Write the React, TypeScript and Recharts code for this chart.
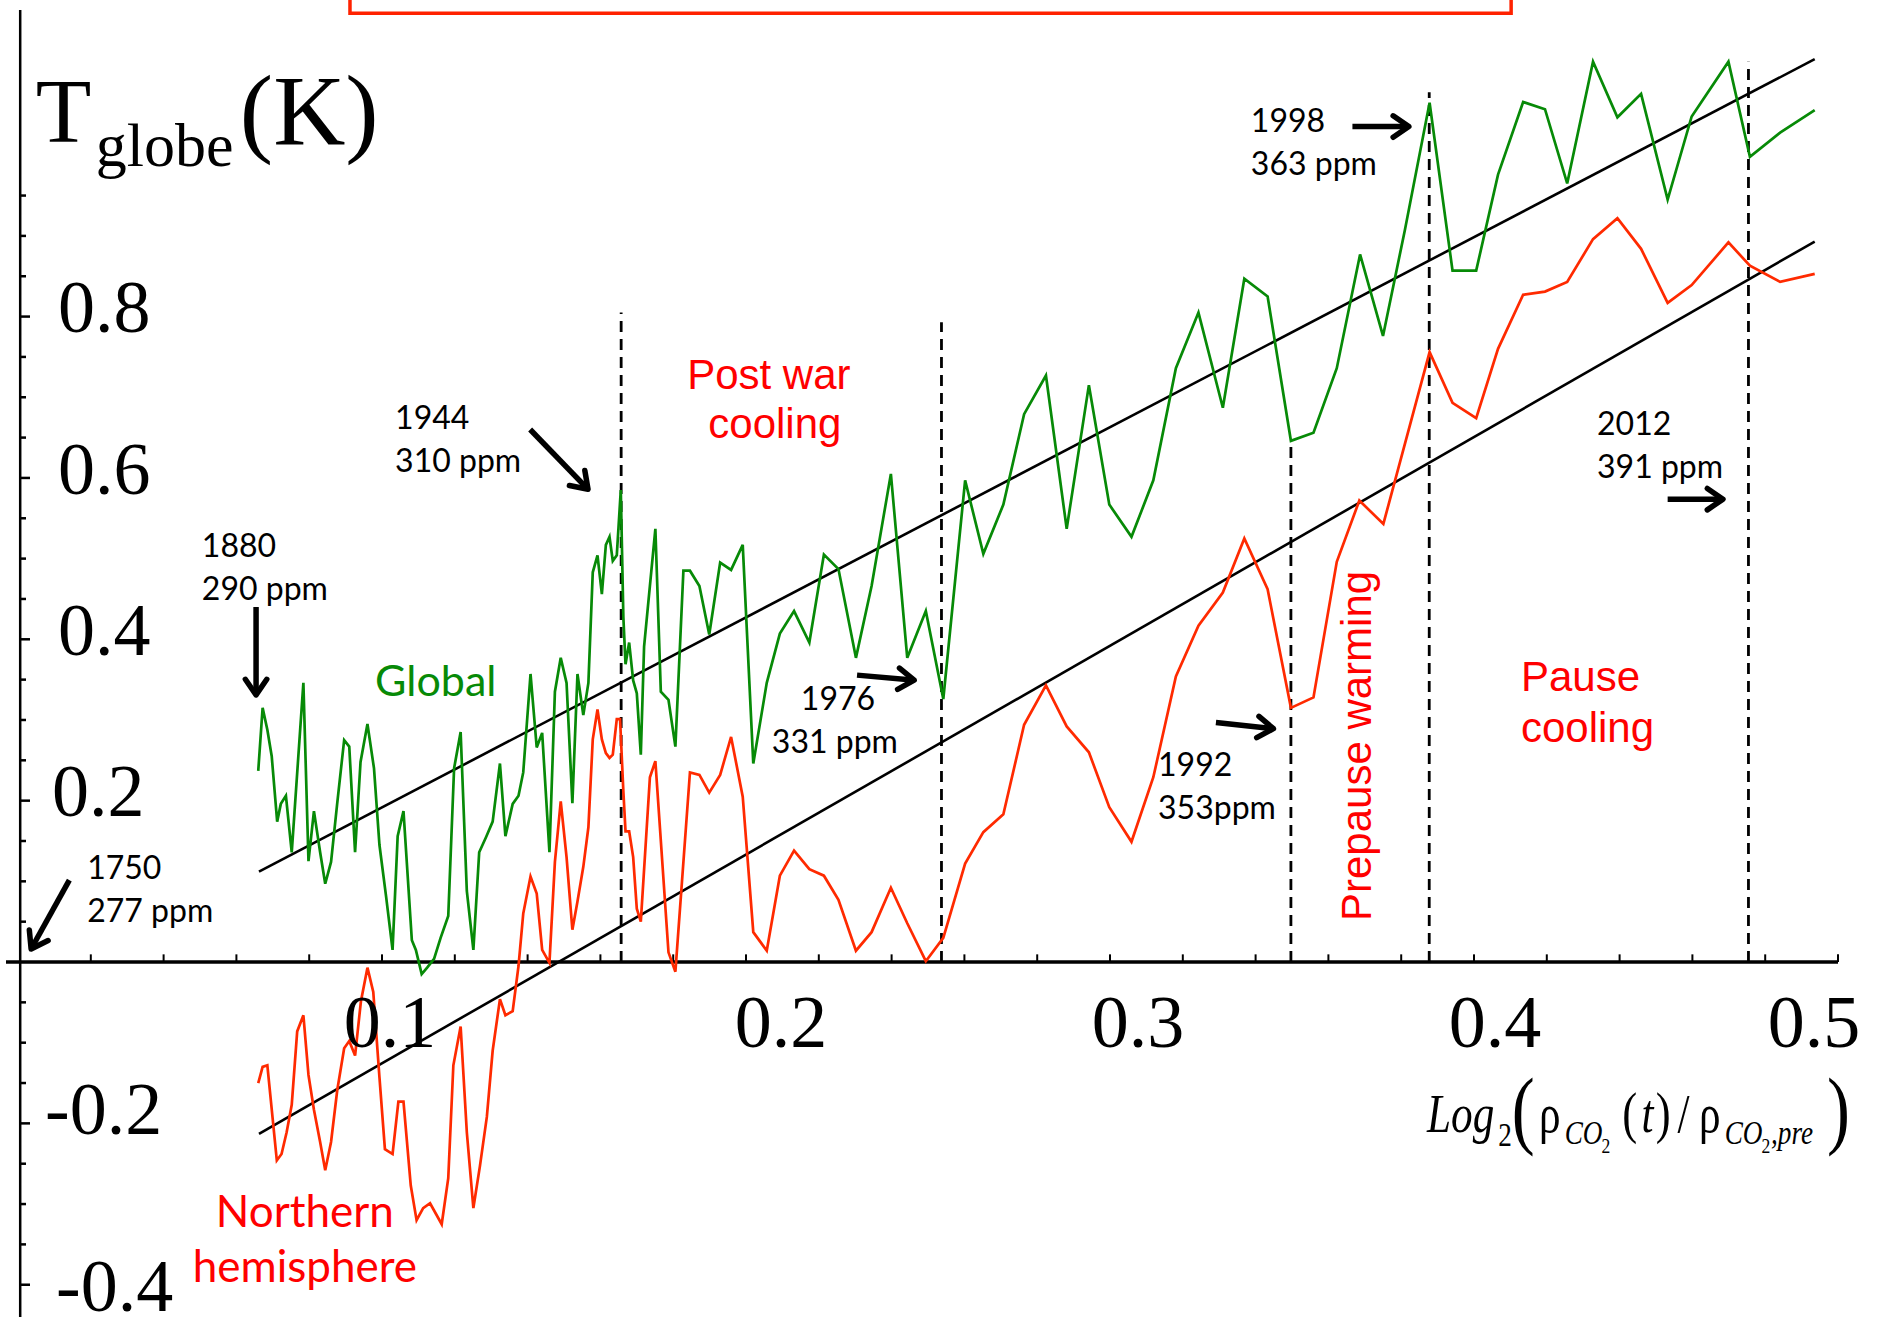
import React from "react";
import { LineChart, Line, XAxis, YAxis, ReferenceLine, ReferenceDot, ReferenceArea } from "recharts";

// x = log2(rho_CO2(t) / rho_CO2,pre), y = temperature anomaly (K)
const globalX = [
  0.066, 0.0672, 0.0685, 0.0697, 0.0712, 0.0722, 0.0736, 0.0752, 0.0784, 0.0798,
  0.0813, 0.083, 0.0844, 0.086, 0.0877, 0.0896, 0.091, 0.0926, 0.0941, 0.096,
  0.0978, 0.0993, 0.1011, 0.1029, 0.1043, 0.1059, 0.1082, 0.1093, 0.1109, 0.1124,
  0.1143, 0.1161, 0.1182, 0.1198, 0.1216, 0.1233, 0.1251, 0.1267, 0.1286, 0.1304,
  0.1324, 0.1339, 0.1359, 0.1375, 0.1388, 0.1408, 0.1425, 0.144, 0.146, 0.1475,
  0.1491, 0.1507, 0.1523, 0.1537, 0.1553, 0.1567, 0.1579, 0.1592, 0.1604, 0.1615,
  0.1625, 0.1634, 0.1645, 0.1656, 0.1663, 0.1669, 0.1679, 0.169, 0.17, 0.1711,
  0.172, 0.1751, 0.1766, 0.1787, 0.1806, 0.1828, 0.1846, 0.1872, 0.1899, 0.1929,
  0.1959, 0.1991, 0.202, 0.2057, 0.2093, 0.2132, 0.2174, 0.2214, 0.2254, 0.2302,
  0.2345, 0.2398, 0.2443, 0.2494, 0.2542, 0.2602, 0.2652, 0.2707, 0.2764, 0.2824,
  0.2881, 0.2942, 0.2998, 0.3059, 0.3119, 0.3181, 0.3243, 0.331, 0.3369, 0.3433,
  0.3497, 0.3559, 0.3623, 0.3687, 0.375, 0.381, 0.3878, 0.3941, 0.4006, 0.4066,
  0.4135, 0.4195, 0.4256, 0.4327, 0.4394, 0.4459, 0.4532, 0.4598, 0.4699, 0.4758,
  0.4841, 0.4936,
];
const globalY = [
  0.237, 0.315, 0.288, 0.255, 0.174, 0.196, 0.206, 0.136, 0.346, 0.125,
  0.187, 0.136, 0.097, 0.124, 0.197, 0.275, 0.267, 0.136, 0.248, 0.295,
  0.24, 0.145, 0.082, 0.015, 0.156, 0.187, 0.027, 0.015, -0.015, -0.007,
  0.004, 0.03, 0.057, 0.24, 0.285, 0.088, 0.015, 0.136, 0.155, 0.174,
  0.246, 0.156, 0.196, 0.206, 0.235, 0.357, 0.266, 0.284, 0.136, 0.335,
  0.377, 0.346, 0.197, 0.357, 0.306, 0.346, 0.483, 0.504, 0.456, 0.517,
  0.527, 0.497, 0.504, 0.585, 0.428, 0.369, 0.396, 0.349, 0.333, 0.257,
  0.391, 0.537, 0.335, 0.325, 0.267, 0.485, 0.485, 0.466, 0.406, 0.495,
  0.486, 0.517, 0.246, 0.346, 0.407, 0.435, 0.396, 0.505, 0.487, 0.377,
  0.466, 0.605, 0.377, 0.435, 0.326, 0.597, 0.506, 0.567, 0.679, 0.727,
  0.537, 0.715, 0.567, 0.527, 0.597, 0.736, 0.805, 0.687, 0.847, 0.825,
  0.646, 0.656, 0.736, 0.877, 0.776, 0.907, 1.065, 0.857, 0.857, 0.976,
  1.066, 1.057, 0.965, 1.116, 1.047, 1.076, 0.945, 1.048, 1.116, 0.998,
  1.028, 1.056,
];

const nhX = [
  0.066, 0.0672, 0.0685, 0.0711, 0.0724, 0.0738, 0.0752, 0.0767, 0.0784, 0.0798,
  0.0813, 0.083, 0.0844, 0.086, 0.0877, 0.0896, 0.091, 0.0926, 0.0942, 0.096,
  0.0976, 0.0993, 0.1008, 0.1029, 0.1045, 0.1059, 0.1079, 0.1095, 0.1113, 0.1132,
  0.1164, 0.1182, 0.1196, 0.1216, 0.1233, 0.1251, 0.1269, 0.1288, 0.1304, 0.1324,
  0.1339, 0.1359, 0.1375, 0.1388, 0.1408, 0.1425, 0.144, 0.146, 0.1475, 0.1491,
  0.1507, 0.1523, 0.1537, 0.1553, 0.1567, 0.1579, 0.1592, 0.1604, 0.1615, 0.1625,
  0.1634, 0.1645, 0.1654, 0.1663, 0.1669, 0.1679, 0.169, 0.17, 0.1711, 0.1736,
  0.1751, 0.1787, 0.1806, 0.1846, 0.1872, 0.1899, 0.1929, 0.1959, 0.1991, 0.202,
  0.2057, 0.2093, 0.2132, 0.2174, 0.2214, 0.2254, 0.2302, 0.2345, 0.2398, 0.2443,
  0.2494, 0.2542, 0.2602, 0.2652, 0.2707, 0.2764, 0.2824, 0.2881, 0.2942, 0.2998,
  0.3059, 0.3119, 0.3181, 0.3243, 0.331, 0.3369, 0.3433, 0.3497, 0.3559, 0.3623,
  0.3685, 0.3751, 0.3878, 0.3941, 0.4006, 0.4066, 0.4135, 0.4195, 0.4256, 0.4327,
  0.4394, 0.4459, 0.4532, 0.4598, 0.4699, 0.4758, 0.4841, 0.4936,
];
const nhY = [
  -0.15, -0.13, -0.128, -0.246, -0.238, -0.211, -0.177, -0.086, -0.066, -0.14,
  -0.183, -0.223, -0.258, -0.223, -0.159, -0.107, -0.098, -0.116, -0.049, -0.007,
  -0.037, -0.143, -0.232, -0.238, -0.173, -0.173, -0.277, -0.32, -0.305, -0.299,
  -0.325, -0.268, -0.128, -0.08, -0.211, -0.305, -0.253, -0.192, -0.11, -0.046,
  -0.066, -0.061, -0.005, 0.06, 0.106, 0.085, 0.015, -0.001, 0.124, 0.199,
  0.13, 0.04, 0.075, 0.118, 0.167, 0.276, 0.313, 0.276, 0.259, 0.253,
  0.257, 0.301, 0.301, 0.212, 0.162, 0.162, 0.13, 0.066, 0.05, 0.229,
  0.249, 0.012, -0.012, 0.235, 0.232, 0.21, 0.232, 0.279, 0.205, 0.037,
  0.014, 0.107, 0.138, 0.115, 0.107, 0.077, 0.014, 0.037, 0.092, 0.048,
  0.001, 0.03, 0.122, 0.161, 0.183, 0.294, 0.343, 0.292, 0.26, 0.192,
  0.149, 0.229, 0.354, 0.417, 0.458, 0.525, 0.462, 0.315, 0.328, 0.496,
  0.572, 0.543, 0.756, 0.693, 0.674, 0.76, 0.827, 0.831, 0.843, 0.896,
  0.922, 0.884, 0.817, 0.839, 0.892, 0.863, 0.843, 0.853,
];

// straight fits through each series
const fitX = [0.0662, 0.4936];
const fitGlobalY = [0.112, 1.119];
const fitNhY = [-0.213, 0.893];

// dashed markers: position and how high the dashed line goes
const markerX = [0.1657, 0.2537, 0.3497, 0.3877, 0.4754];
const markerTop = [0.805, 0.793, 0.646, 1.078, 1.116];

const xTickValues = [0.1, 0.2, 0.3, 0.4, 0.5];
const xTickLabels = ["0.1", "0.2", "0.3", "0.4", "0.5"];
const yTickValues = [-0.4, -0.2, 0.2, 0.4, 0.6, 0.8];
const yTickLabels = ["-0.4", "-0.2", "0.2", "0.4", "0.6", "0.8"];
const xMinorTicks = [
  0.02, 0.04, 0.06, 0.08, 0.1, 0.12, 0.14, 0.16, 0.18, 0.2, 0.22, 0.24, 0.26,
  0.28, 0.3, 0.32, 0.34, 0.36, 0.38, 0.4, 0.42, 0.44, 0.46, 0.48, 0.5,
];
const yMinorTicks = [
  -0.4, -0.35, -0.3, -0.25, -0.2, -0.15, -0.1, -0.05, 0.05, 0.1, 0.15, 0.2, 0.25,
  0.3, 0.35, 0.4, 0.45, 0.5, 0.55, 0.6, 0.65, 0.7, 0.75, 0.8, 0.85, 0.9, 0.95,
];

const noteYears = ["1750", "1880", "1944", "1976", "1992", "1998", "2012"];
const notePpm = ["277 ppm", "290 ppm", "310 ppm", "331 ppm", "353ppm", "363 ppm", "391 ppm"];

const SERIF = '"Liberation Serif", "Times New Roman", serif';
const ARIAL = '"Liberation Sans", Arial, sans-serif';
const CALIBRI = 'Lato, "Open Sans", sans-serif';
const RED = "#ff0000";
const LINE_RED = "#ff2a00";
const GREEN = "#078a07";

const toPoints = (xs: number[], ys: number[]) => xs.map((x, i) => ({ x, y: ys[i] }));

const arrowShape = (p: any) => {
  const { x1, y1, x2, y2 } = p;
  const a = Math.atan2(y2 - y1, x2 - x1);
  const h = 19;
  const s = 0.6;
  const pts = `${x2 - h * Math.cos(a - s)},${y2 - h * Math.sin(a - s)} ${x2},${y2} ${x2 - h * Math.cos(a + s)},${y2 - h * Math.sin(a + s)}`;
  return (
    <g>
      <line x1={x1} y1={y1} x2={x2 - 2 * Math.cos(a)} y2={y2 - 2 * Math.sin(a)} stroke="#000" strokeWidth={5.5} />
      <polyline points={pts} fill="none" stroke="#000" strokeWidth={5.5} strokeLinejoin="round" strokeLinecap="round" />
    </g>
  );
};

type Piece = {
  text: string;
  dx?: number;
  dy?: number;
  size: number;
  family: string;
  color?: string;
  anchor?: "start" | "middle" | "end";
  italic?: boolean;
  rotate?: number;
};

function textAt(key: string, x: number, y: number, pieces: Piece[], squeeze = 1) {
  return (
    <ReferenceDot
      key={key}
      x={x}
      y={y}
      r={1}
      fill="none"
      stroke="none"
      ifOverflow="visible"
      shape={(p: any) => (
        <g transform={`translate(${p.cx} ${p.cy}) scale(${squeeze} 1)`}>
          {pieces.map((t, i) => {
            const tx = t.dx ?? 0;
            const ty = t.dy ?? 0;
            return (
              <text
                key={i}
                x={tx}
                y={ty}
                fontSize={t.size}
                fontFamily={t.family}
                fontStyle={t.italic ? "italic" : "normal"}
                fill={t.color ?? "#000"}
                textAnchor={t.anchor ?? "start"}
                transform={t.rotate ? `rotate(${t.rotate} ${tx} ${ty})` : undefined}
              >
                {t.text}
              </text>
            );
          })}
        </g>
      )}
    />
  );
}

function note(i: number, x: number, y: number, yearDx = 0) {
  return textAt("note" + i, x, y, [
    { text: noteYears[i], dx: yearDx, size: 32, family: CALIBRI },
    { text: notePpm[i], dy: 43, size: 32, family: CALIBRI },
  ]);
}

export default function App() {
  const globalData = toPoints(globalX, globalY);
  const nhData = toPoints(nhX, nhY);
  const fitGlobal = toPoints(fitX, fitGlobalY);
  const fitNh = toPoints(fitX, fitNhY);

  const xLabelDx = [8, 35, 28, 21, -24];
  const yLabelDx = [38, 27, 34, 40, 40, 40];
  const yLabelDy = [26, 11, 15, 16, 16, 15];

  return (
    <div style={{ width: 1888, height: 1326, background: "#fff" }}>
      <style>{"body{margin:0}"}</style>
      <LineChart width={1888} height={1326} margin={{ top: 10, right: 50, bottom: 9, left: 6 }}>
        <XAxis type="number" dataKey="x" domain={[-0.0033, 0.5]} hide allowDataOverflow />
        <YAxis type="number" domain={[-0.44, 1.18]} hide allowDataOverflow />

        {/* title box, mostly cut off at the top */}
        <ReferenceArea
          x1={0.0912}
          x2={0.4102}
          y1={1.176}
          y2={1.5}
          ifOverflow="visible"
          fill="none"
          stroke="#ff2200"
          strokeWidth={3.5}
        />

        {/* axes */}
        <ReferenceLine y={0} stroke="#000" strokeWidth={3.5} ifOverflow="visible" />
        <ReferenceLine x={0.0006} stroke="#000" strokeWidth={2.5} ifOverflow="visible" />
        {xMinorTicks.map((v) => (
          <ReferenceLine
            key={"xt" + v}
            segment={[{ x: v, y: 0 }, { x: v, y: 0.0095 }]}
            stroke="#000"
            strokeWidth={2}
            ifOverflow="visible"
          />
        ))}
        {yMinorTicks.map((v) => (
          <ReferenceLine
            key={"yt" + v}
            segment={[{ x: 0.0006, y: v }, { x: yTickValues.includes(v) ? 0.0033 : 0.0022, y: v }]}
            stroke="#000"
            strokeWidth={2.5}
            ifOverflow="visible"
          />
        ))}

        {/* dashed year markers */}
        {markerX.map((v, i) => (
          <ReferenceLine
            key={"m" + i}
            segment={[{ x: v, y: 0 }, { x: v, y: markerTop[i] }]}
            stroke="#000"
            strokeWidth={2.8}
            strokeDasharray="11 7"
            ifOverflow="visible"
          />
        ))}

        <Line data={fitGlobal} dataKey="y" type="linear" stroke="#000" strokeWidth={2.6} dot={false} activeDot={false} isAnimationActive={false} />
        <Line data={fitNh} dataKey="y" type="linear" stroke="#000" strokeWidth={2.6} dot={false} activeDot={false} isAnimationActive={false} />
        <Line data={nhData} dataKey="y" type="linear" stroke={LINE_RED} strokeWidth={2.7} dot={false} activeDot={false} isAnimationActive={false} />
        <Line data={globalData} dataKey="y" type="linear" stroke={GREEN} strokeWidth={2.7} dot={false} activeDot={false} isAnimationActive={false} />

        {/* arrows */}
        <ReferenceLine segment={[{ x: 0.0141, y: 0.1016 }, { x: 0.0036, y: 0.0161 }]} shape={arrowShape} ifOverflow="visible" />
        <ReferenceLine segment={[{ x: 0.0654, y: 0.44 }, { x: 0.0654, y: 0.331 }]} shape={arrowShape} ifOverflow="visible" />
        <ReferenceLine segment={[{ x: 0.1407, y: 0.66 }, { x: 0.1566, y: 0.586 }]} shape={arrowShape} ifOverflow="visible" />
        <ReferenceLine segment={[{ x: 0.2305, y: 0.3556 }, { x: 0.2462, y: 0.3494 }]} shape={arrowShape} ifOverflow="visible" />
        <ReferenceLine segment={[{ x: 0.3291, y: 0.2968 }, { x: 0.3449, y: 0.2892 }]} shape={arrowShape} ifOverflow="visible" />
        <ReferenceLine segment={[{ x: 0.3666, y: 1.0355 }, { x: 0.3821, y: 1.0355 }]} shape={arrowShape} ifOverflow="visible" />
        <ReferenceLine segment={[{ x: 0.4532, y: 0.5737 }, { x: 0.4684, y: 0.5737 }]} shape={arrowShape} ifOverflow="visible" />

        {/* tick labels */}
        {xTickValues.map((v, i) =>
          textAt("xl" + i, v, 0, [
            { text: xTickLabels[i], dx: xLabelDx[i], dy: 85, size: 74, family: SERIF, anchor: "middle" },
          ])
        )}
        {yTickValues.map((v, i) =>
          textAt("yl" + i, 0, v, [
            { text: yTickLabels[i], dx: yLabelDx[i], dy: yLabelDy[i], size: 74, family: SERIF },
          ])
        )}

        {/* axis titles */}
        {textAt("ytitle", 0.0049, 1.0161, [
          { text: "T", size: 91, family: SERIF },
          { text: "globe", dx: 60, dy: 24, size: 62, family: SERIF },
          { text: "(K)", dx: 204, dy: 2, size: 100, family: SERIF },
        ])}
        {textAt(
          "xtitle",
          0.3871,
          -0.2107,
          [
            { text: "Log", size: 54, family: SERIF, italic: true },
            { text: "2", dx: 89, dy: 14, size: 34, family: SERIF },
            { text: "(", dx: 106, dy: 6, size: 86, family: SERIF },
            { text: "ρ", dx: 140, size: 54, family: SERIF },
            { text: "CO", dx: 172, dy: 12, size: 34, family: SERIF, italic: true },
            { text: "2", dx: 218, dy: 21, size: 22, family: SERIF },
            { text: "(", dx: 244, size: 56, family: SERIF },
            { text: "t", dx: 268, size: 54, family: SERIF, italic: true },
            { text: ")", dx: 286, size: 56, family: SERIF },
            { text: "/", dx: 313, size: 54, family: SERIF },
            { text: "ρ", dx: 340, size: 54, family: SERIF },
            { text: "CO", dx: 372, dy: 12, size: 34, family: SERIF, italic: true },
            { text: "2", dx: 418, dy: 21, size: 22, family: SERIF },
            { text: ",pre", dx: 430, dy: 12, size: 34, family: SERIF, italic: true },
            { text: ")", dx: 500, dy: 6, size: 86, family: SERIF },
          ],
          0.8
        )}

        {/* year / CO2 notes */}
        {note(0, 0.019, 0.1029)}
        {note(1, 0.0505, 0.5019)}
        {note(2, 0.1036, 0.6611)}
        {note(3, 0.2071, 0.3123, 29)}
        {note(4, 0.3132, 0.2305)}
        {note(5, 0.3387, 1.0285)}
        {note(6, 0.4338, 0.653)}

        {/* period and series labels */}
        {textAt("postwar", 0.2071, 0.71, [
          { text: "Post war", dx: -3, size: 42, family: ARIAL, color: RED, anchor: "middle" },
          { text: "cooling", dx: 3, dy: 49, size: 42, family: ARIAL, color: RED, anchor: "middle" },
        ])}
        {textAt("pause", 0.4129, 0.3358, [
          { text: "Pause", size: 42, family: ARIAL, color: RED },
          { text: "cooling", dy: 51, size: 42, family: ARIAL, color: RED },
        ])}
        {textAt("prepause", 0.3717, 0.0508, [
          { text: "Prepause warming", size: 42, family: ARIAL, color: RED, rotate: -90 },
        ])}
        {textAt("nh", 0.0788, -0.3284, [
          { text: "Northern", size: 44, family: CALIBRI, color: RED, anchor: "middle" },
          { text: "hemisphere", dy: 55, size: 44, family: CALIBRI, color: RED, anchor: "middle" },
        ])}
        {textAt("global", 0.0981, 0.3296, [{ text: "Global", size: 43, family: CALIBRI, color: GREEN }])}
      </LineChart>
    </div>
  );
}
